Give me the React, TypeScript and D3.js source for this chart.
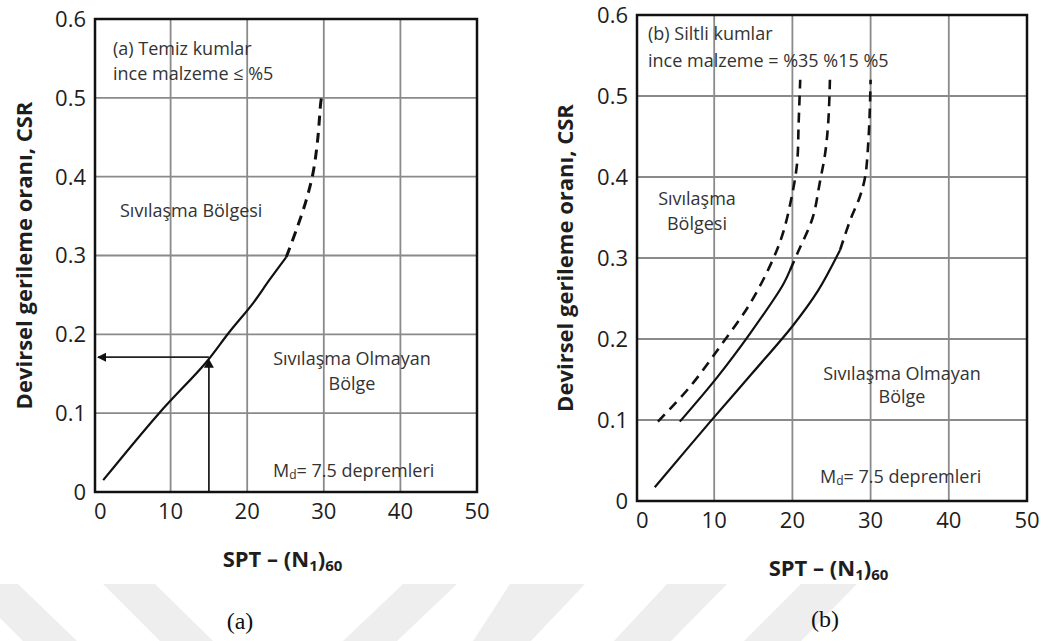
import * as d3 from 'd3';

// tick labels
const xTicks = [0, 10, 20, 30, 40, 50];
const yTicks = [0, 0.1, 0.2, 0.3, 0.4, 0.5, 0.6];

// (a) clean sands, fines <= 5%  [ (N1)60 , CSR ]
const cleanSolid: [number, number][] = [
  [1.2, 0.015], [8.5, 0.1], [14.6, 0.164], [17.6, 0.202], [20.8, 0.24], [22.9, 0.269], [25.1, 0.298],
];
const cleanDashed: [number, number][] = [
  [25.1, 0.298], [26.4, 0.332], [27.7, 0.37], [28.6, 0.405], [29.2, 0.447], [29.6, 0.494], [29.7, 0.5],
];
// worked example arrow on (a)
const exampleN = 15;
const exampleCSR = 0.171;
const exampleCurveCSR = 0.164;

// (b) silty sands, fines = 35%, 15%, 5%
const fines35Dashed: [number, number][] = [
  [2.8, 0.098], [6.9, 0.141], [10.7, 0.19], [14.6, 0.244], [17.5, 0.298], [18.8, 0.331],
  [19.9, 0.375], [20.6, 0.417], [20.8, 0.467], [21.0, 0.52],
];
const fines15Solid: [number, number][] = [
  [5.6, 0.098], [10.4, 0.153], [14.6, 0.207], [18.8, 0.267], [19.7, 0.285],
];
const fines15Dashed: [number, number][] = [
  [19.7, 0.285], [20.7, 0.307], [22.6, 0.35], [23.5, 0.393], [24.2, 0.43], [24.6, 0.47], [24.8, 0.52],
];
const fines5Solid: [number, number][] = [
  [2.4, 0.017], [9.5, 0.098], [14.8, 0.157], [20.1, 0.217], [23.3, 0.26], [26.1, 0.31],
];
const fines5Dashed: [number, number][] = [
  [26.1, 0.31], [27.4, 0.347], [28.6, 0.375], [29.3, 0.4], [29.7, 0.442], [29.9, 0.483], [30.0, 0.52],
];

const W = 1049;
const H = 641;
const font = "'Open Sans', 'Noto Sans', sans-serif";
const textGray = '#333';

// background watermark stripes (x at y=584, x at y=641)
const stripes = [
  [-34, 18, 23, 77], [103, 155, 160, 213],
  [403, 457, 343, 397], [510, 585, 473, 531], [667, 727, 614, 671], [801, 857, 744, 801],
];

type Pt = [number, number];

function Panel(props: {
  x: d3.ScaleLinear<number, number>;
  y: d3.ScaleLinear<number, number>;
  titleX: number;
  children?: any;
}) {
  const { x, y, titleX } = props;
  const [x0, x1] = x.range();
  const [y0, y1] = y.range();
  const midY = (y0 + y1) / 2;
  return (
    <g>
      {/* grid */}
      {xTicks.slice(1, -1).map(t => (
        <line key={'gx' + t} x1={x(t)} x2={x(t)} y1={y1} y2={y0} stroke="#8a8a8a" strokeWidth={1.8} />
      ))}
      {yTicks.slice(1, -1).map(t => (
        <line key={'gy' + t} x1={x0} x2={x1} y1={y(t)} y2={y(t)} stroke="#8a8a8a" strokeWidth={1.8} />
      ))}
      {props.children}
      <rect x={x0 + 1} y={y1} width={x1 - x0 - 1} height={y0 - y1} fill="none" stroke="#111" strokeWidth={2.5} />
      {/* tick labels */}
      {xTicks.map(t => (
        <text key={'tx' + t} x={x(t)} y={y0 + 27} textAnchor={t === 0 ? 'start' : 'middle'}
          fontFamily={font} fontSize={22} fill="#1e1e1e">{t}</text>
      ))}
      {yTicks.map(t => (
        <text key={'ty' + t} x={x0 - 8} y={y(t)} dy="0.36em" textAnchor="end"
          fontFamily={font} fontSize={22} fill="#1e1e1e">{t === 0 ? '0' : d3.format('.1f')(t)}</text>
      ))}
      {/* axis titles */}
      <text transform={`translate(${titleX},${midY}) rotate(-90)`} textAnchor="middle"
        fontFamily={font} fontWeight="bold" fontSize={22} fill="#1e1e1e">Devirsel gerileme oranı, CSR</text>
      <text x={(x0 + x1) / 2 - 3} y={y0 + 75} textAnchor="middle" fontFamily={font} fontWeight="bold"
        fontSize={22} fill="#1e1e1e">
        SPT – (N<tspan fontSize={15} dy={4}>1</tspan><tspan dy={-4}>)</tspan><tspan fontSize={15} dy={4}>60</tspan>
      </text>
    </g>
  );
}

export default function App() {
  const xa = d3.scaleLinear().domain([0, 50]).range([94, 477]);
  const ya = d3.scaleLinear().domain([0, 0.6]).range([492, 19]);
  const xb = d3.scaleLinear().domain([0, 50]).range([636, 1027]);
  const yb = d3.scaleLinear().domain([0, 0.6]).range([501, 15]);

  const lineA = d3.line<Pt>().x(d => xa(d[0])).y(d => ya(d[1])).curve(d3.curveCatmullRom.alpha(0.5));
  const lineB = d3.line<Pt>().x(d => xb(d[0])).y(d => yb(d[1])).curve(d3.curveCatmullRom.alpha(0.5));

  const solid = { fill: 'none', stroke: '#111', strokeWidth: 2.2 };
  const dashed = { fill: 'none', stroke: '#111', strokeWidth: 3, strokeDasharray: '10 7' };

  const ax = xa(exampleN);
  const ayH = ya(exampleCSR);
  const ayV = ya(exampleCurveCSR);

  return (
    <svg width={W} height={H} style={{ position: 'absolute', left: 0, top: 0, display: 'block' }}>
      <rect width={W} height={H} fill="#fff" />
      {stripes.map((s, i) => (
        <polygon key={i} points={`${s[0]},584 ${s[1]},584 ${s[3]},641 ${s[2]},641`} fill="#eeeeee" />
      ))}

      {/* panel (a) */}
      <Panel x={xa} y={ya} titleX={32}>
        <path d={lineA(cleanSolid) ?? ''} {...solid} />
        <path d={lineA(cleanDashed) ?? ''} {...dashed} />
        <line x1={ax} x2={ax} y1={ya(0)} y2={ayV + 4} stroke="#222" strokeWidth={1.8} />
        <path d={`M${ax - 5},${ayV + 5} L${ax + 5},${ayV + 5} L${ax},${ayV - 4} Z`} fill="#111" />
        <line x1={ax} x2={xa(0) + 4} y1={ayH} y2={ayH} stroke="#222" strokeWidth={1.8} />
        <path d={`M${xa(0) + 3},${ayH} L${xa(0) + 12},${ayH - 4.5} L${xa(0) + 12},${ayH + 4.5} Z`} fill="#111" />
        <g fontFamily={font} fontSize={18} fill={textGray}>
          <text x={113} y={55}>(a) Temiz kumlar</text>
          <text x={113} y={80}>ince malzeme ≤ %5</text>
          <text x={120} y={217}>Sıvılaşma Bölgesi</text>
          <text x={352} y={365} textAnchor="middle">Sıvılaşma Olmayan</text>
          <text x={352} y={390} textAnchor="middle">Bölge</text>
          <text x={273} y={477}>M<tspan fontSize={12} dy={2}>d</tspan><tspan dy={-2}>= 7.5 depremleri</tspan></text>
        </g>
      </Panel>

      {/* panel (b) */}
      <Panel x={xb} y={yb} titleX={573}>
        <path d={lineB(fines35Dashed) ?? ''} {...dashed} strokeWidth={2.6} />
        <path d={lineB(fines15Solid) ?? ''} {...solid} />
        <path d={lineB(fines15Dashed) ?? ''} {...dashed} strokeWidth={2.6} />
        <path d={lineB(fines5Solid) ?? ''} {...solid} />
        <path d={lineB(fines5Dashed) ?? ''} {...dashed} strokeWidth={2.6} />
        <g fontFamily={font} fontSize={18} fill={textGray}>
          <text x={648} y={40}>(b) Siltli kumlar</text>
          <text x={648} y={67}>ince malzeme = %35 %15 %5</text>
          <text x={697} y={205} textAnchor="middle">Sıvılaşma</text>
          <text x={697} y={230} textAnchor="middle">Bölgesi</text>
          <text x={902} y={380} textAnchor="middle">Sıvılaşma Olmayan</text>
          <text x={902} y={403} textAnchor="middle">Bölge</text>
          <text x={820} y={483}>M<tspan fontSize={12} dy={2}>d</tspan><tspan dy={-2}>= 7.5 depremleri</tspan></text>
        </g>
      </Panel>

      {/* captions */}
      <text x={240} y={629} textAnchor="middle" fontFamily="'Liberation Serif', serif" fontSize={24} fill="#111">(a)</text>
      <text x={825} y={627} textAnchor="middle" fontFamily="'Liberation Serif', serif" fontSize={24} fill="#111">(b)</text>
    </svg>
  );
}
